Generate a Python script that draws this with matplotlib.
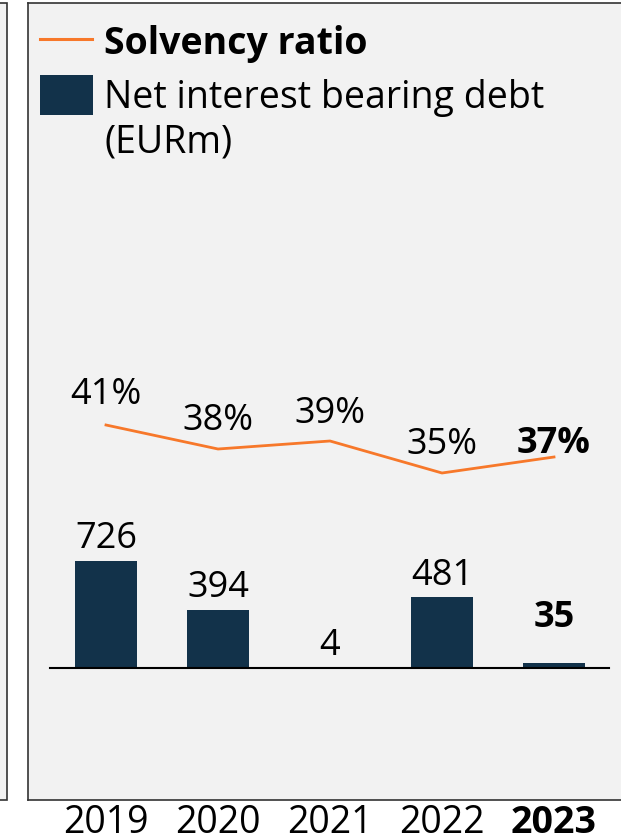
import matplotlib
matplotlib.use("Agg")
import matplotlib.pyplot as plt
from matplotlib.lines import Line2D
from matplotlib.patches import Rectangle

plt.rcParams['font.family'] = ['Open Sans', 'DejaVu Sans']

# data
years = ['2019', '2020', '2021', '2022', '2023']
debt = [726, 394, 4, 481, 35]
solvency = [41, 38, 39, 35, 37]
debt_labels = ['726', '394', '4', '481', '35']
solvency_labels = ['41%', '38%', '39%', '35%', '37%']

# label offsets in points (last year highlighted)
bar_label_pad = [9, 9, 9, 9, 26]
line_label_pad = [15, 14, 13, 14, 3]
bold = [False, False, False, False, True]

W, H = 621, 840
DPI = 100
BAR_COLOR = '#12324a'
LINE_COLOR = '#f7782a'
BG = '#f2f2f2'
EDGE = '#333333'
FS = 26

fig = plt.figure(figsize=(W / DPI, H / DPI), dpi=DPI)
fig.patch.set_facecolor('white')

# panel in pixel coordinates
px_left, px_right, px_top, px_bottom = 28, 640, 3, 800
ax = fig.add_axes([px_left / W, (H - px_bottom) / H,
                   (px_right - px_left) / W, (px_bottom - px_top) / H])
ax.set_facecolor(BG)
ax_h = px_bottom - px_top

# x scale: 112 px per year, first center at 106 px
step = 112.0
x0 = 106.0
ax.set_xlim((px_left - x0) / step, (px_right - x0) / step)

# bar scale: 0 at 668 px, 107 px for 726
bar_scale = 107.0 / 726  # px per unit
zero_from_bottom = px_bottom - 668
ax.set_ylim(-zero_from_bottom / bar_scale, (ax_h - zero_from_bottom) / bar_scale)

xs = list(range(len(years)))
ax.bar(xs, debt, width=0.555, color=BAR_COLOR, zorder=2)
ax.plot([(50 - x0) / step, (609 - x0) / step], [0, 0], color='black', lw=1.5, zorder=3)

for x, v, lab, pad, b in zip(xs, debt, debt_labels, bar_label_pad, bold):
    ax.annotate(lab, (x, v), xytext=(0, pad), textcoords='offset points',
                ha='center', va='baseline', fontsize=FS,
                fontweight='bold' if b else 'normal', color='black')

# line on twin axis: 8 px per %, 41 at 425 px
ax2 = ax.twinx()
line_scale = 8.0
p41_from_bottom = px_bottom - 425
lo = 41 - p41_from_bottom / line_scale
ax2.set_ylim(lo, lo + ax_h / line_scale)
ax2.plot(xs, solvency, color=LINE_COLOR, lw=2, zorder=3)
for x, v, lab, pad, b in zip(xs, solvency, solvency_labels, line_label_pad, bold):
    ax2.annotate(lab, (x, v), xytext=(0, pad), textcoords='offset points',
                 ha='center', va='baseline', fontsize=FS,
                 fontweight='bold' if b else 'normal', color='black')

for a in (ax, ax2):
    a.set_xticks([])
    a.set_yticks([])
    for s in a.spines.values():
        s.set_color(EDGE)
        s.set_linewidth(1.2)
    a.spines['right'].set_visible(False)
ax2.spines['left'].set_visible(False)
ax2.spines['top'].set_visible(False)
ax2.spines['bottom'].set_visible(False)

# year labels below the panel
for x, yr, b in zip(xs, years, bold):
    px = x0 + step * x
    fig.text(px / W, 1 - 833 / H, yr, ha='center', va='baseline', fontsize=27,
             fontweight='bold' if b else 'normal', color='black')

# partial neighbouring panel on the far left
fig.add_artist(Rectangle((-20 / W, (H - px_bottom) / H), 26.5 / W, (px_bottom - px_top) / H,
                         transform=fig.transFigure, facecolor=BG, edgecolor=EDGE, lw=1.2))

# legend drawn by hand
fig.add_artist(Line2D([40 / W, 92 / W], [1 - 39 / H, 1 - 39 / H], color=LINE_COLOR, lw=2.2,
                      transform=fig.transFigure))
fig.text(104 / W, 1 - 54 / H, 'Solvency ratio', fontsize=27, fontweight='bold',
         ha='left', va='baseline')
fig.add_artist(Rectangle((40 / W, 1 - 115 / H), 53 / W, 40 / H, transform=fig.transFigure,
                         facecolor=BAR_COLOR, edgecolor='none'))
fig.text(104 / W, 1 - 108 / H, 'Net interest bearing debt', fontsize=27,
         ha='left', va='baseline')
fig.text(104 / W, 1 - 153 / H, '(EURm)', fontsize=27, ha='left', va='baseline')

fig.savefig('out.png', dpi=DPI, facecolor='white')
